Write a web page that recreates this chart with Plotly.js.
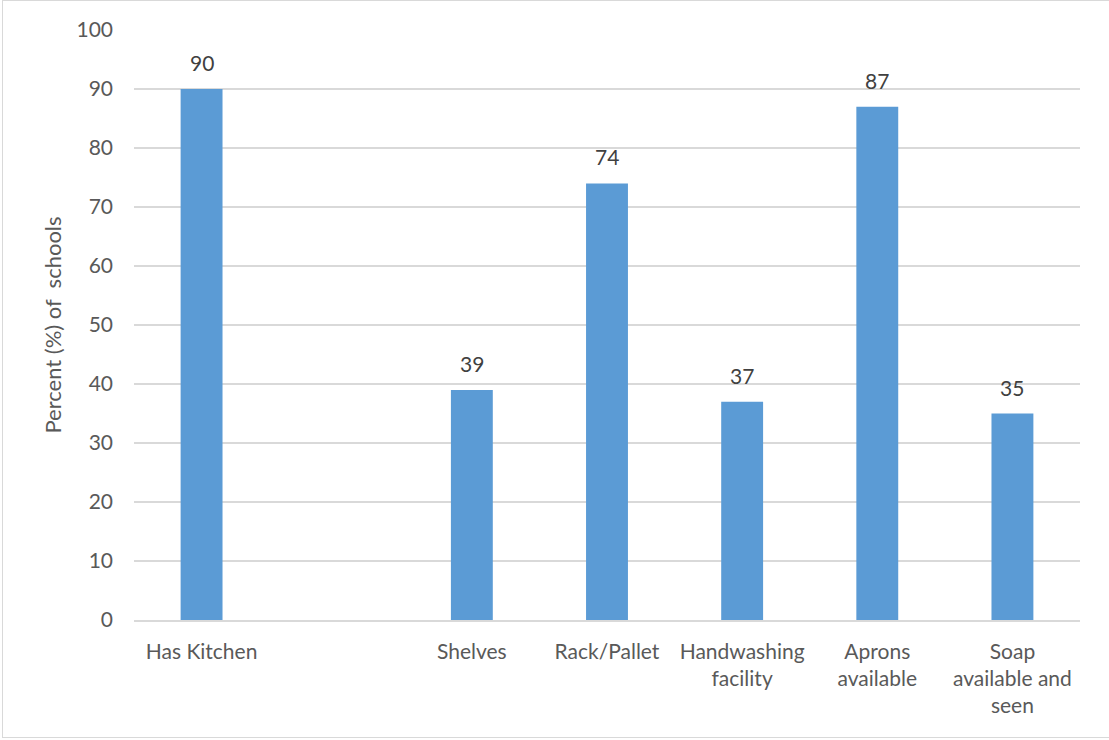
<!DOCTYPE html>
<html>
<head>
<meta charset="utf-8">
<script src="https://cdn.plot.ly/plotly-3.0.1.min.js"></script>
<style>
html,body{margin:0;padding:0;background:#fff;}
#wrap{position:relative;width:1109px;height:740px;overflow:hidden;}
#chart{width:1109px;height:740px;}
#frame{position:absolute;left:2px;top:0px;width:1115px;height:738px;border:1px solid #D9D9D9;box-sizing:border-box;pointer-events:none;}
</style>
</head>
<body>
<div id="wrap"><div id="chart"></div><div id="frame"></div></div>
<script>
const categories = ["Has Kitchen", " ", "Shelves", "Rack/Pallet", "Handwashing facility", "Aprons available", "Soap available and seen"];
const tickLabels = ["Has Kitchen", "", "Shelves", "Rack/Pallet", "Handwashing<br>facility", "Aprons<br>available", "Soap<br>available and<br>seen"];
const values = [90, null, 39, 74, 37, 87, 35];
const yTicks = [0, 10, 20, 30, 40, 50, 60, 70, 80, 90, 100];

const font = "Lato, 'Open Sans', sans-serif";
const textColor = "#595959";

const annotations = [];
categories.forEach((c, i) => {
  if (values[i] !== null) {
    annotations.push({x: c, y: values[i], xref: 'x', yref: 'y', text: String(values[i]),
      showarrow: false, yanchor: 'bottom', yshift: 12,
      font: {family: font, size: 21, color: "#404040"}});
  }
});

const data = [{
  type: 'bar',
  x: categories,
  y: values,
  marker: {color: '#5B9BD5'},
  hoverinfo: 'x+y'
}];

const layout = {
  width: 1109, height: 740,
  margin: {l: 134, r: 29, t: 30, b: 120},
  paper_bgcolor: '#fff', plot_bgcolor: '#fff',
  bargap: 0.69,
  showlegend: false,
  font: {family: font, color: textColor, size: 21},
  xaxis: {
    type: 'category',
    tickvals: categories, ticktext: tickLabels,
    tickfont: {family: font, size: 21, color: textColor},
    showgrid: false, ticks: '', ticklen: 0,
    showline: true, linecolor: '#D9D9D9', linewidth: 1.5,
    tickangle: 0, automargin: false,
    ticklabelstandoff: 12
  },
  yaxis: {
    range: [0, 100], tickvals: yTicks,
    tickfont: {family: font, size: 21, color: textColor},
    showgrid: true, gridcolor: '#D9D9D9', gridwidth: 1.3,
    zeroline: false, showline: false, ticks: '',
    ticklabelstandoff: 20,
    title: {text: 'Percent (%) of  schools', font: {family: font, size: 22, color: textColor}, standoff: 8},
    automargin: false
  },
  annotations: annotations
};

Plotly.newPlot('chart', data, layout, {displayModeBar: false, staticPlot: true});
</script>
</body>
</html>
